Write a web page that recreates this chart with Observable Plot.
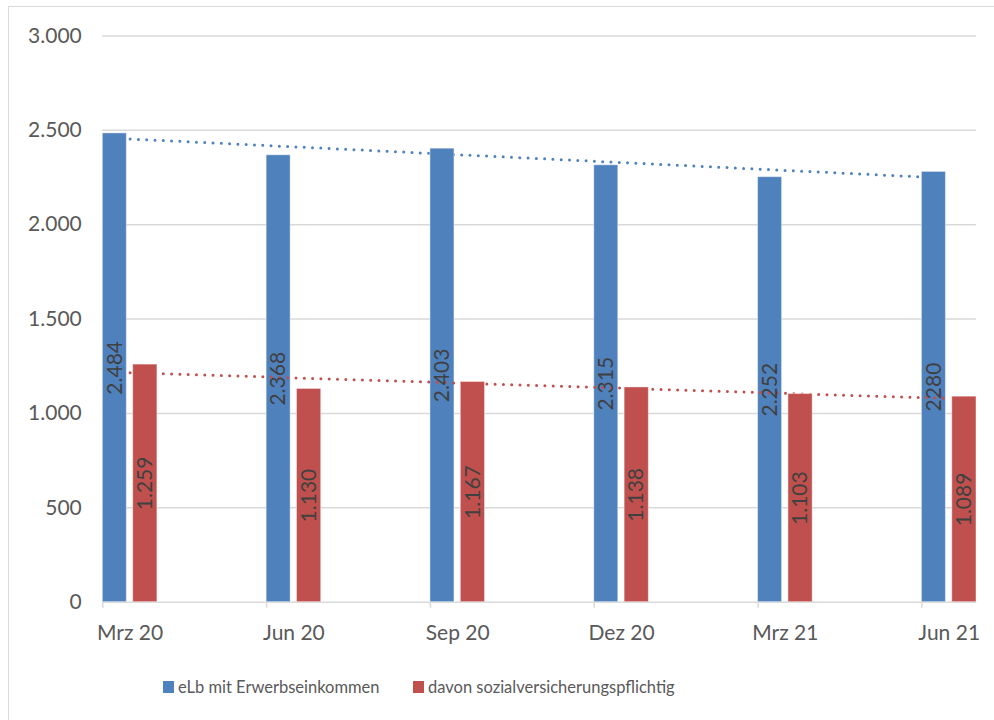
<!DOCTYPE html>
<html lang="de">
<head>
<meta charset="utf-8">
<script src="https://cdn.jsdelivr.net/npm/d3@7"></script>
<script src="https://cdn.jsdelivr.net/npm/@observablehq/plot@0.6"></script>
<style>
  html, body { margin: 0; padding: 0; background: #fff; overflow: hidden; }
  #wrap { position: relative; width: 994px; height: 720px; overflow: hidden; }
  #frame { position: absolute; left: 8px; top: 6px; width: 1000px; height: 730px;
           border: 1.5px solid #d9d9d9; box-sizing: border-box; }
  #chart { position: absolute; left: 0; top: 0; }
  .leg { position: absolute; top: 677px; display: flex; align-items: center;
         font-family: Lato, sans-serif; font-size: 16.5px; color: #595959; white-space: nowrap; }
  .sw { width: 11px; height: 12px; margin-right: 4px; }
</style>
</head>
<body>
<div id="wrap">
  <div id="frame"></div>
  <div id="chart"></div>
  <div class="leg" style="left:163px"><span class="sw" style="background:#4F81BD"></span><span id="l1"></span></div>
  <div class="leg" style="left:413px"><span class="sw" style="background:#C0504D"></span><span id="l2"></span></div>
</div>
<script>
// Quarterly reference dates (month slots on a date-like axis)
const categories = ["Mrz 20", "Jun 20", "Sep 20", "Dez 20", "Mrz 21", "Jun 21"];
const seriesNames = ["eLb mit Erwerbseinkommen", "davon sozialversicherungspflichtig"];
const erwerb = [2484, 2368, 2403, 2315, 2252, 2280];
const sozial = [1259, 1130, 1167, 1138, 1103, 1089];
const erwerbLabels = ["2.484", "2.368", "2.403", "2.315", "2.252", "2280"];
const sozialLabels = ["1.259", "1.130", "1.167", "1.138", "1.103", "1.089"];
const yTicks = [0, 500, 1000, 1500, 2000, 2500, 3000];

const BLUE = "#4F81BD", RED = "#C0504D";
const fmt = d3.formatLocale({decimal: ",", thousands: ".", grouping: [3], currency: ["", "€"]}).format(",d");

// each category sits at the start of a 3‑month step; the axis runs in months
const rows = categories.map((c, i) => ({
  cat: c, m: i * 3, erwerb: erwerb[i], sozial: sozial[i],
  le: erwerbLabels[i], ls: sozialLabels[i]
}));

const chart = Plot.plot({
  width: 994,
  height: 650,
  marginLeft: 102.3,
  marginRight: 18,
  marginTop: 35.5,
  marginBottom: 48.3,
  style: {fontFamily: "Lato, sans-serif", fontSize: "21px", color: "#595959", background: "transparent"},
  x: {type: "linear", domain: [0, 16]},
  y: {domain: [0, 3000]},
  marks: [
    Plot.ruleY(yTicks.filter(d => d > 0), {stroke: "#d9d9d9", strokeWidth: 1.5}),
    Plot.axisY(yTicks, {tickSize: 0, tickPadding: 21, tickFormat: fmt, fill: "#595959", fontSize: 21}),
    // tick marks at the start of each category slot
    Plot.axisX(rows.map(d => d.m), {
      tickSize: 6, stroke: "#d9d9d9", strokeWidth: 1.5, tickFormat: () => ""
    }),
    // category names centred in their month slot
    Plot.text(rows, {x: d => d.m + 0.5, y: 0, text: "cat", dy: 31,
      fill: "#595959", fontSize: 21, lineAnchor: "middle"}),
    Plot.ruleY([0], {stroke: "#d9d9d9", strokeWidth: 1.5}),
    // trend of series 1, then its bars
    Plot.linearRegressionY(rows, {x: d => d.m + 0.5, y: "erwerb", ci: 0,
      stroke: BLUE, strokeWidth: 3, strokeDasharray: "0 8.3", strokeLinecap: "round"}),
    Plot.rectY(rows, {x1: d => d.m, x2: d => d.m + 0.44, y: "erwerb",
      fill: BLUE, stroke: "#fff", strokeOpacity: 0.45, strokeWidth: 1}),
    // trend of series 2, then its bars
    Plot.linearRegressionY(rows, {x: d => d.m + 0.5, y: "sozial", ci: 0,
      stroke: RED, strokeWidth: 3, strokeDasharray: "0 8.3", strokeLinecap: "round"}),
    Plot.rectY(rows, {x1: d => d.m + 0.556, x2: d => d.m + 1, y: "sozial",
      fill: RED, stroke: "#fff", strokeOpacity: 0.45, strokeWidth: 1}),
    // value labels, rotated and centred in each bar
    Plot.text(rows, {x: d => d.m + 0.22, y: d => d.erwerb / 2, text: "le", rotate: -90,
      textAnchor: "middle", lineAnchor: "middle", fill: "#404040", fontSize: 21}),
    Plot.text(rows, {x: d => d.m + 0.778, y: d => d.sozial / 2, text: "ls", rotate: -90,
      textAnchor: "middle", lineAnchor: "middle", fill: "#404040", fontSize: 21})
  ]
});
document.getElementById("chart").append(chart);
document.getElementById("l1").textContent = seriesNames[0];
document.getElementById("l2").textContent = seriesNames[1];
</script>
</body>
</html>
